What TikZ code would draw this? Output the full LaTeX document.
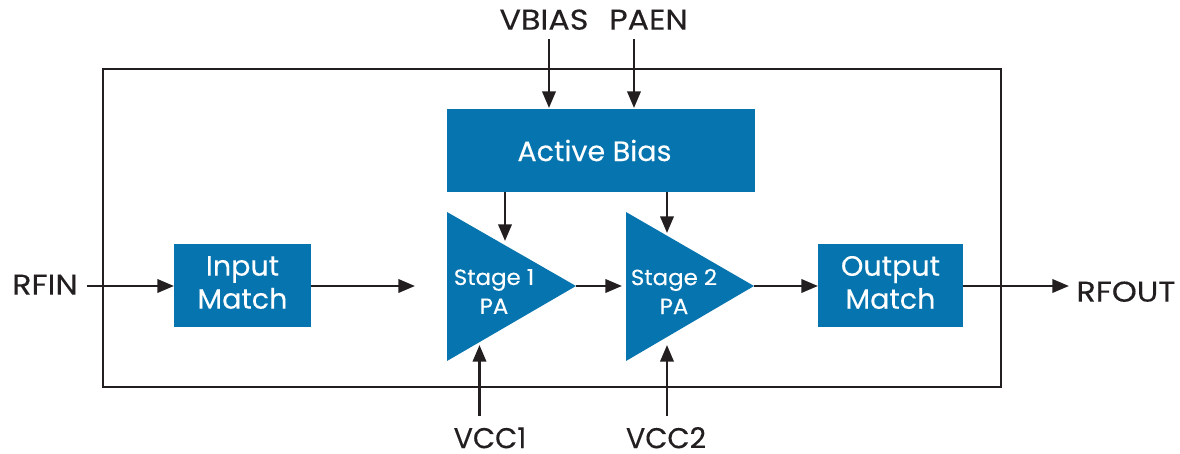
\documentclass[tikz,border=0pt]{standalone}
\usepackage{fontspec}
\setmainfont{Poppins}
\newfontface\labfont[FakeStretch=1.11,FakeBold=0.25]{Poppins}
\newfontface\vccfont[FakeBold=0.25]{Poppins}
\newfontface\blockfont[FakeStretch=1.02,FakeBold=0.25]{Poppins}
\newfontface\pafont[FakeStretch=1.04,FakeBold=0.2]{Poppins}
\usetikzlibrary{arrows.meta}
\definecolor{blk}{HTML}{0674AE}
\definecolor{ink}{HTML}{231F20}
\tikzset{
  px/.style={x=0.75pt,y=-0.75pt},
  blockbox/.style={fill=blk,draw=none,text=white,inner sep=0,align=center,font=\blockfont\fontsize{21}{24.75}\selectfont},
  lab/.style={text=ink,inner sep=0,text height=14.5pt,text depth=0pt,font=\labfont\fontsize{21.5}{25}\selectfont},
  vcclab/.style={text=ink,inner sep=0,text height=14.5pt,text depth=0pt,font=\vccfont\fontsize{21.5}{25}\selectfont},
  tri/.style={fill=blk,draw=none},
  pa/.style={text=white,inner sep=0,align=center,font=\pafont\fontsize{16.5}{21.75}\selectfont},
  conn/.style={draw=ink,line width=2pt,-{Triangle[length=12.5pt,width=10pt]}},
}
\begin{document}
\begin{tikzpicture}[px]
\useasboundingbox (0,0) rectangle (1180,453);
\draw[ink,line width=1.9pt] (103,69) rectangle (1001,387);
\fill[blk] (447,109) rectangle (755,192);
\fill[blk] (174,244) rectangle (311,327);
\fill[blk] (818,244) rectangle (963,327);
\coordinate (imw) at (174,286);
\coordinate (ime) at (311,286);
\coordinate (omw) at (818,286);
\coordinate (ome) at (963,286);
\node[blockbox] (biastext) at (594.5,150.5) {Active Bias};
\node[blockbox] (im) at (242.5,282.5) {Input\\Match};
\node[blockbox] (om) at (890.5,282.5) {Output\\Match};
\fill[tri] (447,212) -- (576,286) -- (447,361) -- cycle;
\fill[tri] (626,212) -- (754,286) -- (626,361) -- cycle;
\coordinate (pa1in) at (415,286);
\coordinate (pa1out) at (576,286);
\coordinate (pa2in) at (622,286);
\coordinate (pa2out) at (754,286);
\node[pa] (s1) at (494,291.5) {Stage 1\\PA};
\node[pa] (s2) at (674,291.5) {Stage 2\\PA};
\node[lab] (vbias) at (544,20) {VBIAS};
\node[lab] (paen) at (648.5,20) {PAEN};
\node[lab] (rfin) at (45,285) {RFIN};
\node[lab] (rfout) at (1126,292) {RFOUT};
\node[vcclab] (vcc1) at (490,438.5) {VCC1};
\node[vcclab] (vcc2) at (666,438.5) {VCC2};
\coordinate (a1) at (549,39);\coordinate (a1e) at (549,108);
\coordinate (a2) at (634,39);\coordinate (a2e) at (634,108);
\draw[conn] (a1) -- (a1e);
\draw[conn] (a2) -- (a2e);
\coordinate (b1) at (505,192);\coordinate (b1e) at (505,241);
\coordinate (b2) at (667,192);\coordinate (b2e) at (667,233);
\draw[conn] (b1) -- (b1e);
\draw[conn] (b2) -- (b2e);
\coordinate (c1) at (479.5,416);\coordinate (c1e) at (479.5,345);
\coordinate (c2) at (667,416);\coordinate (c2e) at (667,345);
\draw[conn] (c1) -- (c1e);
\draw[conn] (c2) -- (c2e);
\coordinate (rfa) at (87,286);
\draw[conn] (rfa) -- (imw);
\draw[conn] (ime) -- (pa1in);
\draw[conn] (pa1out) -- (pa2in);
\draw[conn] (pa2out) -- (omw);
\coordinate (rfb) at (1069,286);
\draw[conn] (ome) -- (rfb);
\end{tikzpicture}
\end{document}
